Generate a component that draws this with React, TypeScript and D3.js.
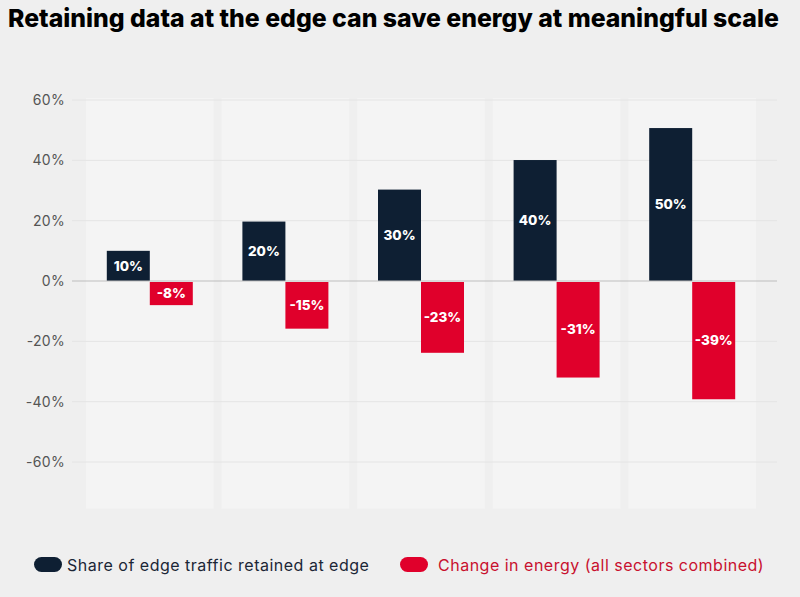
import React from "react";
import * as d3 from "d3";

const categories: string[] = ["A", "B", "C", "D", "E"];
const retainedShare: number[] = [10, 19.7, 30.3, 40.1, 50.7];
const retainedLabels: string[] = ["10%", "20%", "30%", "40%", "50%"];
const energyChange: number[] = [-8, -15.8, -23.8, -32, -39.2];
const energyLabels: string[] = ["-8%", "-15%", "-23%", "-31%", "-39%"];
const yTicks: number[] = [60, 40, 20, 0, -20, -40, -60];

const seriesNames: string[] = [
    "Share of edge traffic retained at edge",
    "Change in energy (all sectors combined)",
];

const W = 800;
const H = 597;
const NAVY = "#0e1f33";
const RED = "#e0002b";
const FONT = "Inter, 'DejaVu Sans', sans-serif";

export default function App() {
    const x = d3.scaleBand<string>()
        .domain(categories)
        .range([82, 760])
        .padding(0);
    const y = d3.scaleLinear()
        .domain([-60, 60])
        .range([462, 100]);

    const bandInset = 4;
    const barW = 43;
    const bandTop = y(60) - 2;
    const bandBottom = y(-75.5);

    return (
        <svg width={W} height={H} style={{ position: "absolute", left: 0, top: 0, background: "#efefef" }}
            fontFamily={FONT}>
            <rect x={0} y={0} width={W} height={H} fill="#efefef" />
            <text x={8} y={27} fontSize={24.8} fontWeight={800} fill="#000">
                Retaining data at the edge can save energy at meaningful scale
            </text>

            {/* column bands */}
            {categories.map(c => (
                <rect key={"band" + c}
                    x={(x(c) as number) + bandInset}
                    y={bandTop}
                    width={x.bandwidth() - bandInset * 2}
                    height={bandBottom - bandTop}
                    fill="#f4f4f4" />
            ))}

            {/* grid lines */}
            {yTicks.filter(t => t !== 0).map(t => (
                <line key={"g" + t} x1={72} x2={777} y1={y(t)} y2={y(t)}
                    stroke="#e4e4e4" strokeWidth={1} />
            ))}

            {/* y labels */}
            {yTicks.map(t => (
                <text key={"yl" + t} x={65} y={y(t)} dy="0.35em" textAnchor="end"
                    fontSize={14} fill="#555" fontWeight={400} letterSpacing={0.3}>
                    {t + "%"}
                </text>
            ))}

            {/* bars */}
            {categories.map((c, i) => {
                const cx = (x(c) as number) + x.bandwidth() / 2;
                const v1 = retainedShare[i];
                const v2 = energyChange[i];
                return (
                    <g key={"bars" + c}>
                        <rect x={cx - barW} y={y(v1)} width={barW} height={y(0) - y(v1)} fill={NAVY} />
                        <text x={cx - barW / 2} y={(y(v1) + y(0)) / 2} dy="0.35em" textAnchor="middle"
                            fill="#fff" fontSize={13.5} fontWeight={800}>{retainedLabels[i]}</text>
                        <rect x={cx} y={y(0) + 1} width={barW} height={y(v2) - y(0) - 1} fill={RED} />
                        <text x={cx + barW / 2} y={(y(v2) + y(0)) / 2} dy="0.35em" textAnchor="middle"
                            fill="#fff" fontSize={13.5} fontWeight={800}>{energyLabels[i]}</text>
                    </g>
                );
            })}

            {/* zero line */}
            <line x1={72} x2={777} y1={y(0)} y2={y(0)} stroke="#bdbdbd" strokeWidth={1.2} />

            {/* legend */}
            <rect x={34} y={557} width={28} height={15} rx={7.5} fill={NAVY} />
            <text x={67} y={565} dy="0.35em" fontSize={16} fill="#1b2636" letterSpacing={0.5}>{seriesNames[0]}</text>
            <rect x={400} y={557} width={28} height={15} rx={7.5} fill={RED} />
            <text x={438} y={565} dy="0.35em" fontSize={16} fill="#c8102e" letterSpacing={0.5}>{seriesNames[1]}</text>
        </svg>
    );
}
